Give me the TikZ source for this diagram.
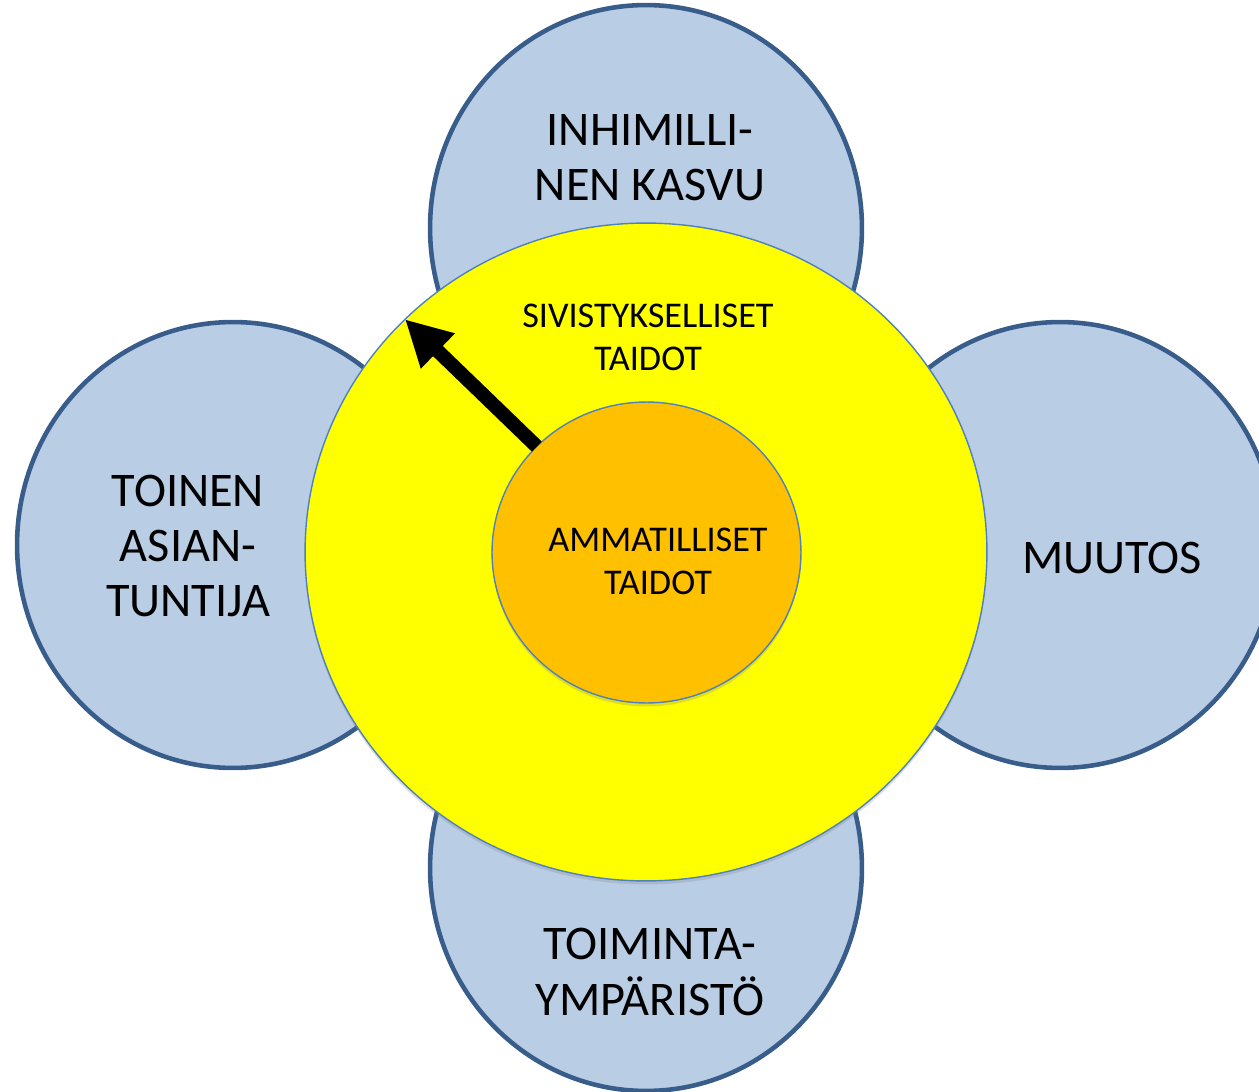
\documentclass[tikz,border=0pt]{standalone}
\usepackage{fontspec}
\setmainfont{Carlito}
\usetikzlibrary{shapes.geometric,arrows.meta,shadows}
\definecolor{kehafill}{HTML}{B9CDE5}
\definecolor{kehaline}{HTML}{385D8A}
\definecolor{ohut}{HTML}{4F81BD}
\definecolor{keltainen}{HTML}{FFFF00}
\definecolor{oranssi}{HTML}{FFC000}
\tikzset{
  kehapallo/.style={ellipse,draw=kehaline,fill=kehafill,line width=2.6pt,
    minimum width=8.64cm,minimum height=8.92cm,inner sep=0pt,outer sep=0pt},
  sisapallo/.style={ellipse,draw=ohut,line width=0.8pt,inner sep=0pt,outer sep=0pt,
    drop shadow={shadow xshift=0pt,shadow yshift=-2pt,opacity=0.25}},
  isoteksti/.style={align=center,font=\fontsize{27.5}{31.5}\selectfont},
  pieniteksti/.style={align=center,font=\fontsize{20.6}{24.5}\selectfont},
}
\begin{document}
\begin{tikzpicture}[x=0.02cm,y=-0.02cm]
  \useasboundingbox (0,0) rectangle (1259,1092);
  % ulommat pallot
  \node[kehapallo] (toinen) at (233,545) {};
  \node[kehapallo] (muutos) at (1060,545) {};
  \node[kehapallo] (inhim) at (646,228) {};
  \node[kehapallo] (toimi) at (646,868) {};
  % sisakkaiset pallot
  \node[sisapallo,fill=keltainen,minimum width=13.64cm,minimum height=13.16cm] (sivis) at (646,552) {};
  \node[sisapallo,fill=oranssi,minimum width=6.18cm,minimum height=6.02cm] (ammat) at (646.5,552.5) {};
  \draw[line width=8pt,-{Triangle[length=26pt,width=26pt]}] (ammat.136) -- (sivis.136);
  % tekstit
  \node[isoteksti] (inhimtxt) at (650,158) {INHIMILLI-\\NEN KASVU};
  \node[isoteksti] (toinentxt) at (188,546) {TOINEN\\ASIAN-\\TUNTIJA};
  \node[isoteksti] (muutostxt) at (1112,558) {MUUTOS};
  \node[isoteksti] (toimitxt) at (650,972) {TOIMINTA-\\YMPÄRISTÖ};
  \node[pieniteksti] (sivistxt) at (648,337) {SIVISTYKSELLISET\\TAIDOT};
  \node[pieniteksti] (ammattxt) at (658,561) {AMMATILLISET\\TAIDOT};
\end{tikzpicture}
\end{document}
